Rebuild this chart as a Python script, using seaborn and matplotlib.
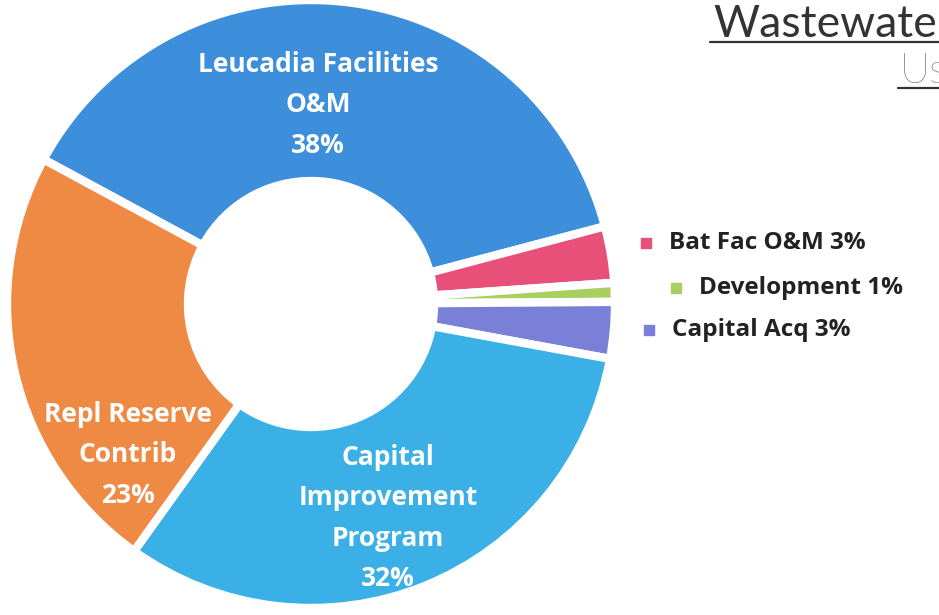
import matplotlib
matplotlib.use('Agg')
import matplotlib.pyplot as plt
import seaborn as sns

# Wastewater uses, share of total
categories = ['Leucadia Facilities O&M', 'Bat Fac O&M', 'Development', 'Capital Acq',
              'Capital Improvement Program', 'Repl Reserve Contrib']
shares = [38, 3, 1, 3, 32, 23]
colors = ['#3d8fdc', '#e8507a', '#a8d060', '#7a80d8', '#3ab0e6', '#ef8a45']

slice_labels = ['Leucadia Facilities\nO&M\n38%', '', '', '',
                'Capital\nImprovement\nProgram\n32%', 'Repl Reserve\nContrib\n23%']
legend_labels = ['Bat Fac O&M 3%', 'Development 1%', 'Capital Acq 3%']

sns.set_style('white')
plt.rcParams['font.family'] = ['Open Sans', 'DejaVu Sans']

fig = plt.figure(figsize=(9.39, 6.15), dpi=100)
ax = fig.add_axes([0, 0, 1, 1])

# donut, clockwise from upper left
wedges, _ = ax.pie(shares, colors=colors, startangle=151.6, counterclock=False,
                   center=(311, 311), radius=304, frame=True,
                   wedgeprops=dict(width=181, edgecolor='white', linewidth=6))
ax.set_xlim(0, 939)
ax.set_ylim(0, 615)
ax.set_aspect('equal')
ax.axis('off')

# labels inside the big slices
label_pos = {0: (318, 510), 4: (388, 97), 5: (128, 160)}
for i, (x, y) in label_pos.items():
    ax.text(x, y, slice_labels[i], color='white', fontsize=19, fontweight='bold',
            ha='center', va='center', linespacing=1.65)

# staggered legend for small slices
leg_pos = [(646, 372), (676, 327), (649, 285)]
for (x, y), lab, c in zip(leg_pos, legend_labels, [colors[1], colors[2], colors[3]]):
    ax.plot(x, y, marker='s', markersize=7, color=c, linestyle='none')
    ax.text(x + 23, y, lab, fontsize=17.5, fontweight='bold', color='#222222',
            ha='left', va='center')

# title, cut off at right edge like the source
ax.text(713, 578, 'Wastewater', fontsize=32, family=['Lato', 'DejaVu Sans'],
        color='#333333', ha='left', va='baseline')
ax.plot([710, 939], [573, 573], color='#333333', linewidth=1.6)
ax.text(900, 532, 'Uses', fontsize=30, family=['Lato', 'DejaVu Sans'],
        color='#333333', ha='left', va='baseline', fontweight='light')
ax.plot([898, 939], [527, 527], color='#333333', linewidth=1.6)

fig.savefig('out.png', dpi=100)
